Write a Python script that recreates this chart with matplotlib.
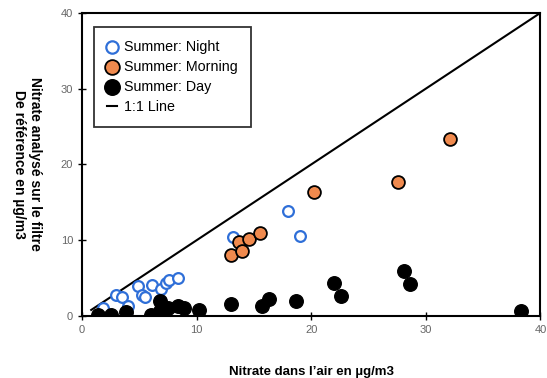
import numpy as np
import matplotlib.pyplot as plt

plt.rcParams['font.family'] = ['Liberation Sans', 'DejaVu Sans']

# Summer: Night
night_x = [1.85, 3.0, 3.5, 4.0, 4.9, 5.2, 5.5, 6.1, 6.9, 7.3, 7.6, 8.4, 13.2, 18.0, 19.0]
night_y = [1.0, 2.8, 2.5, 1.3, 3.9, 2.8, 2.5, 4.1, 3.5, 4.3, 4.7, 5.0, 10.4, 13.9, 10.5]
# Summer: Morning
morning_x = [13.0, 13.7, 14.0, 14.6, 15.5, 20.2, 27.6, 32.1]
morning_y = [8.0, 9.8, 8.6, 10.2, 11.0, 16.3, 17.7, 23.4]
# Summer: Day
day_x = [1.4, 2.5, 3.8, 6.0, 6.8, 6.8, 7.5, 8.4, 8.9, 10.2, 13.0, 15.7, 16.3, 18.7,
         22.0, 22.6, 28.1, 28.6, 38.3]
day_y = [0.1, 0.1, 0.5, 0.1, 2.0, 0.6, 1.0, 1.3, 1.0, 0.8, 1.6, 1.3, 2.3, 2.0,
         4.4, 2.6, 6.0, 4.2, 0.6]
# 1:1 line
line_x = [0.8, 40]
line_y = [0.8, 40]

ticks = [0, 10, 20, 30, 40]

fig = plt.figure(figsize=(5.47, 3.78), dpi=100)
ax = fig.add_axes([0.150, 0.164, 0.838, 0.802])

ax.plot(line_x, line_y, color='black', lw=1.5, label='1:1 Line', zorder=1)
ax.scatter(night_x, night_y, s=60, facecolors='white', edgecolors='#2f6fd8',
           linewidths=1.6, label='Summer: Night', zorder=3)
ax.scatter(morning_x, morning_y, s=85, facecolors='#f08a4e', edgecolors='black',
           linewidths=1.3, label='Summer: Morning', zorder=3)
ax.scatter(day_x, day_y, s=95, facecolors='black', edgecolors='black',
           label='Summer: Day', zorder=3)

ax.set_xlim(0, 40)
ax.set_ylim(0, 40)
ax.set_xticks(ticks)
ax.set_yticks(ticks)
ax.tick_params(direction='inout', length=6, width=1, labelsize=8, labelcolor='#666666')
for s in ax.spines.values():
    s.set_linewidth(1.5)

ax.set_xlabel("Nitrate dans l’air en µg/m3", fontsize=9.5, fontweight='bold', labelpad=22)
ax.set_ylabel("Nitrate analysé sur le filtre\nDe référence en µg/m3", fontsize=10,
              fontweight='bold', rotation=-90, labelpad=24, va='center')

h, l = ax.get_legend_handles_labels()
order = [1, 2, 3, 0]
leg = ax.legend([h[i] for i in order], [l[i] for i in order], loc='upper left',
                bbox_to_anchor=(0.026, 0.954), borderaxespad=0, fontsize=10.3,
                fancybox=False, edgecolor='black', handlelength=0.7,
                handletextpad=0.5, borderpad=0.9, labelspacing=0.42,
                markerscale=1.15)
leg.get_frame().set_linewidth(1.3)

fig.savefig('out.png', dpi=100)
